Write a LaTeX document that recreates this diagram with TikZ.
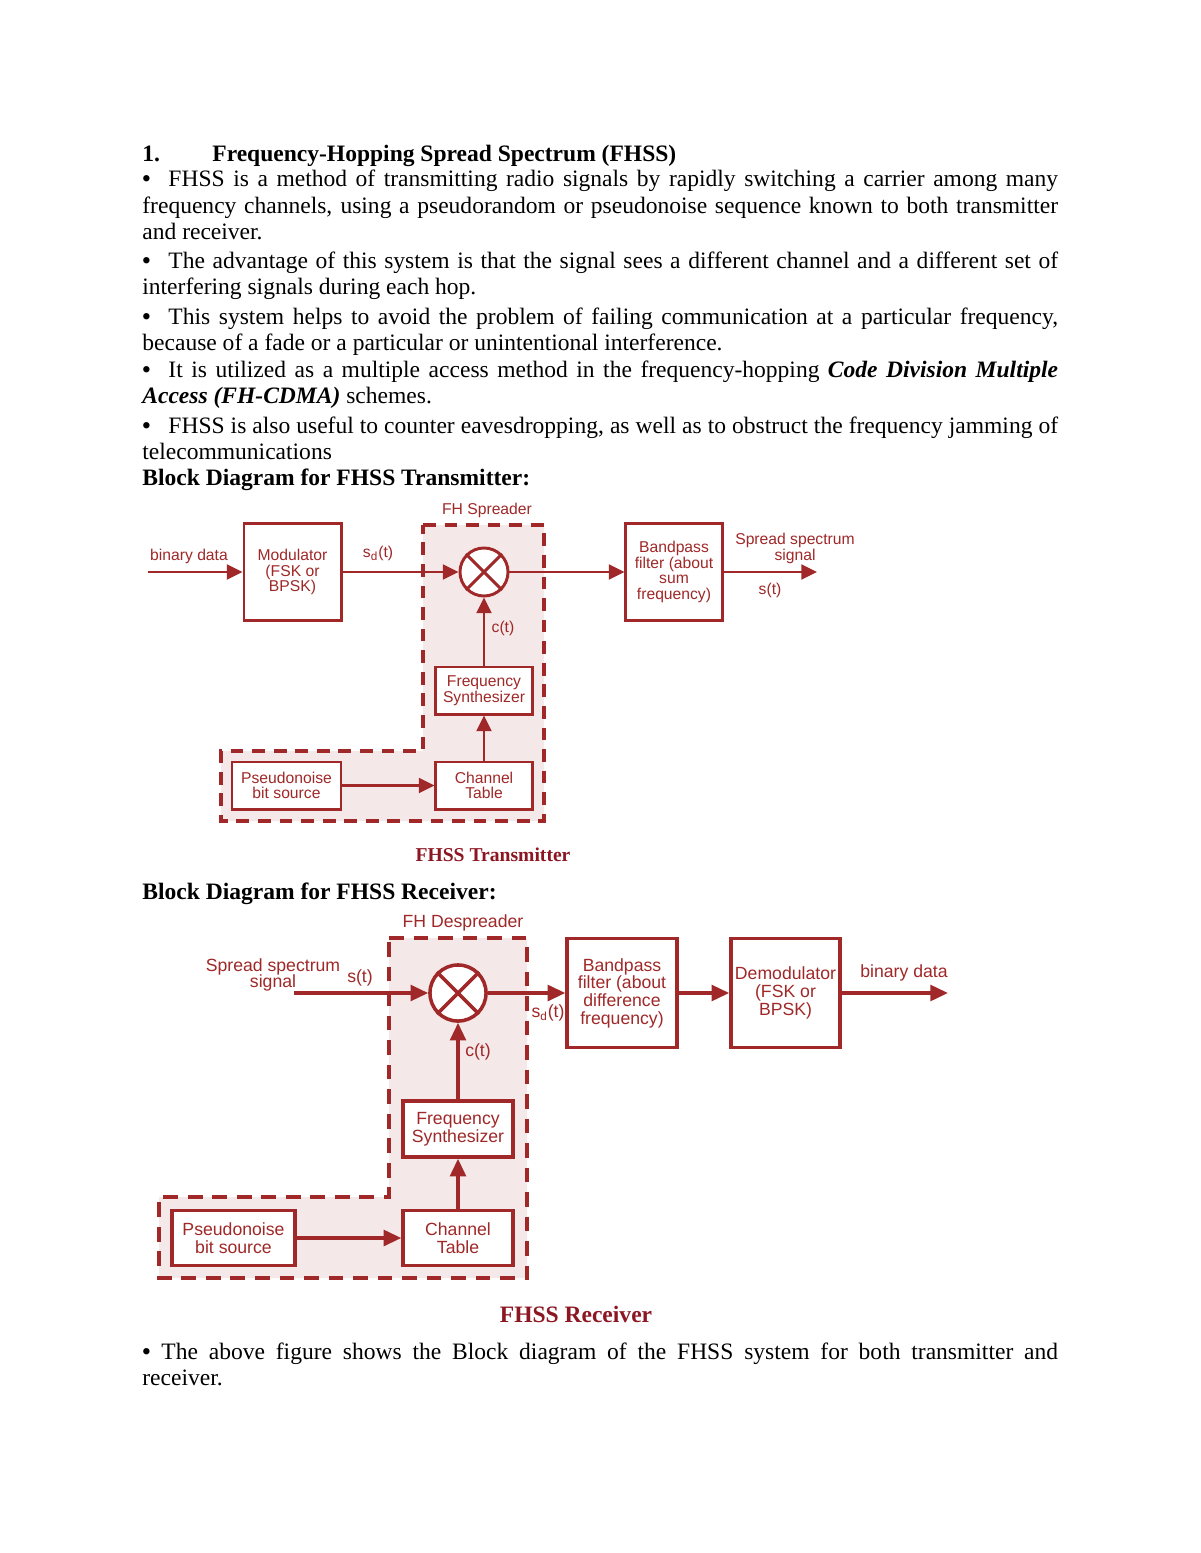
\documentclass[tikz,border=0pt]{standalone}
\usepackage{fontspec}
\setmainfont{Liberation Serif}
\newfontfamily\diagfont{Liberation Sans}
\usetikzlibrary{arrows.meta}
\definecolor{fhred}{RGB}{160,40,40}
\definecolor{fhpink}{RGB}{244,232,232}
\definecolor{capred}{RGB}{140,22,34}
\newcommand{\blt}{\textbf{\textbullet}}

\begin{document}
\begin{tikzpicture}[x=0.51pt, y=-0.51pt, line join=miter,
  txt/.style={anchor=base west, inner sep=0pt, text width=467pt, align=justify, font=\fontsize{12}{13.5}\selectfont},
  blk/.style={draw=fhred, fill=white, line width=1.5pt, inner sep=1pt, align=center, text=fhred, font=\diagfont\fontsize{8}{8}\selectfont},
  rblk/.style={blk, line width=1.8pt, font=\diagfont\fontsize{9}{9}\selectfont},
  mixer/.style={circle, draw=fhred, fill=white, line width=1.5pt, inner sep=0pt},
  rmixer/.style={mixer, line width=1.8pt},
  lbl/.style={text=fhred, inner sep=0pt, align=center, font=\diagfont\fontsize{8}{8.2}\selectfont},
  rlbl/.style={lbl, font=\diagfont\fontsize{9}{8.5}\selectfont},
  sig/.style={draw=fhred, line width=1.5pt, -{Triangle[length=8pt,width=7.5pt]}},
  rsig/.style={draw=fhred, line width=1.8pt, -{Triangle[length=9pt,width=8pt]}},
  wire/.style={draw=fhred, line width=1.5pt},
  zone/.style={draw=fhred, fill=fhpink, line width=1.6pt, dash pattern=on 6.5pt off 4.5pt},
  rzone/.style={zone, line width=1.8pt, dash pattern=on 7.5pt off 5pt},
]

% Pagina
\fill[white] (0,0) rectangle (1200,1553);
\useasboundingbox (0,0) rectangle (1200,1553);

% Testo
\node[txt] (head) at (142,162) {\textbf{\makebox[35.7pt][l]{1.}Frequency-Hopping Spread Spectrum (FHSS)}};
\node[txt] (p1) at (142,187) {\makebox[13.3pt][l]{\blt}FHSS is a method of transmitting radio signals by rapidly switching a carrier among many\linebreak frequency channels, using a pseudorandom or pseudonoise sequence known to both transmitter\linebreak and receiver.};
\node[txt] (p2) at (142,268) {\makebox[13.3pt][l]{\blt}The advantage of this system is that the signal sees a different channel and a different set of\linebreak interfering signals during each hop.};
\node[txt] (p3) at (142,324) {\makebox[13.3pt][l]{\blt}This system helps to avoid the problem of failing communication at a particular frequency,\linebreak because of a fade or a particular or unintentional interference.};
\node[txt] (p4) at (142,377) {\makebox[13.3pt][l]{\blt}It is utilized as a multiple access method in the frequency-hopping \textbf{\textit{Code Division Multiple}}\linebreak \textbf{\textit{Access (FH-CDMA)}} schemes.};
\node[txt] (p5) at (142,433) {\makebox[13.3pt][l]{\blt}FHSS is also useful to counter eavesdropping, as well as to obstruct the frequency jamming of\linebreak telecommunications};
\node[txt] (thead) at (142,485) {\textbf{Block Diagram for FHSS Transmitter:}};

% Trasmettitore: zona FH Spreader
\path[zone] (423,525) -- (544,525) -- (544,821) -- (221,821) -- (221,751) -- (423,751) -- cycle;
\node[lbl] (tspr) at (487,510) {FH Spreader};

% Trasmettitore: blocchi
\node[blk, minimum width=49.5pt, minimum height=49pt] (mod) at (292.5,572) {Modulator\\(FSK or\\BPSK)};
\node[mixer, minimum size=24.5pt] (mix) at (484,572) {};
\node[blk, minimum width=49pt, minimum height=49pt] (bpf) at (674,572) {Bandpass\\filter (about\\sum\\frequency)};
\node[blk, minimum width=49pt, minimum height=24pt] (fs) at (484,690.5) {Frequency\\Synthesizer};
\node[blk, minimum width=49pt, minimum height=24pt] (ct) at (484,785.5) {Channel\\Table};
\node[blk, minimum width=55.6pt, minimum height=24pt] (pn) at (286.5,785.5) {Pseudonoise\\bit source};
\coordinate (tin) at (148,572);
\coordinate (tout) at (817,572);

% Trasmettitore: frecce
\draw[wire] (mix.north west) -- (mix.south east) (mix.north east) -- (mix.south west);
\draw[sig] (tin) -- (mod);
\draw[sig] (mod) -- (mix);
\draw[sig] (mix) -- (bpf);
\draw[sig] (bpf) -- (tout);
\draw[sig] (fs) -- (mix);
\draw[sig] (ct) -- (fs);
\draw[sig] (pn) -- (ct);

% Trasmettitore: etichette
\node[lbl] (tbin) at (189,556) {binary data};
\node[lbl] (tsd) at (378,553) {s\textsubscript{d}(t)};
\node[lbl] (tct) at (503,628) {c(t)};
\node[lbl] (tsp) at (795,548) {Spread spectrum\\signal};
\node[lbl] (tst) at (770,590) {s(t)};
\node[anchor=base, inner sep=0pt, text=capred, font=\bfseries\fontsize{10}{12}\selectfont] (tcap) at (493,861) {FHSS Transmitter};

\node[txt] (rhead) at (142,899) {\textbf{Block Diagram for FHSS Receiver:}};

% Ricevitore: zona FH Despreader
\path[rzone] (389,938) -- (527,938) -- (527,1278) -- (159,1278) -- (159,1197) -- (389,1197) -- cycle;
\node[rlbl] (rdsp) at (463,923) {FH Despreader};

% Ricevitore: blocchi
\node[rmixer, minimum size=28.6pt] (rmix) at (458,993) {};
\node[rblk, minimum width=56pt, minimum height=55.6pt] (rbpf) at (622,993) {Bandpass\\filter (about\\difference\\frequency)};
\node[rblk, minimum width=55.6pt, minimum height=55.6pt] (rdem) at (785.5,993) {Demodulator\\(FSK or\\BPSK)};
\node[rblk, minimum width=56pt, minimum height=28.5pt] (rfs) at (458,1129) {Frequency\\Synthesizer};
\node[rblk, minimum width=56pt, minimum height=28pt] (rct) at (458,1238) {Channel\\Table};
\node[rblk, minimum width=62.7pt, minimum height=28pt] (rpn) at (233.5,1238) {Pseudonoise\\bit source};
\coordinate (rin) at (294,993);
\coordinate (rout) at (948,993);

% Ricevitore: frecce
\draw[wire, line width=1.8pt] (rmix.north west) -- (rmix.south east) (rmix.north east) -- (rmix.south west);
\draw[rsig] (rin) -- (rmix);
\draw[rsig] (rmix) -- (rbpf);
\draw[rsig] (rbpf) -- (rdem);
\draw[rsig] (rdem) -- (rout);
\draw[rsig] (rfs) -- (rmix);
\draw[rsig] (rct) -- (rfs);
\draw[rsig] (rpn) -- (rct);

% Ricevitore: etichette
\node[rlbl] (rsp) at (273,975) {Spread spectrum\\signal};
\node[rlbl] (rst) at (360,978) {s(t)};
\node[rlbl] (rsd) at (548,1013) {s\textsubscript{d}(t)};
\node[rlbl] (rct2) at (478,1052) {c(t)};
\node[rlbl] (rbin) at (904,973) {binary data};
\node[anchor=base, inner sep=0pt, text=capred, font=\bfseries\fontsize{12}{14}\selectfont] (rcap) at (576,1322) {FHSS Receiver};

% Nota finale
\node[txt] (p6) at (142,1359) {\blt\ The above figure shows the Block diagram of the FHSS system for both transmitter and\linebreak receiver.};

\end{tikzpicture}
\end{document}
